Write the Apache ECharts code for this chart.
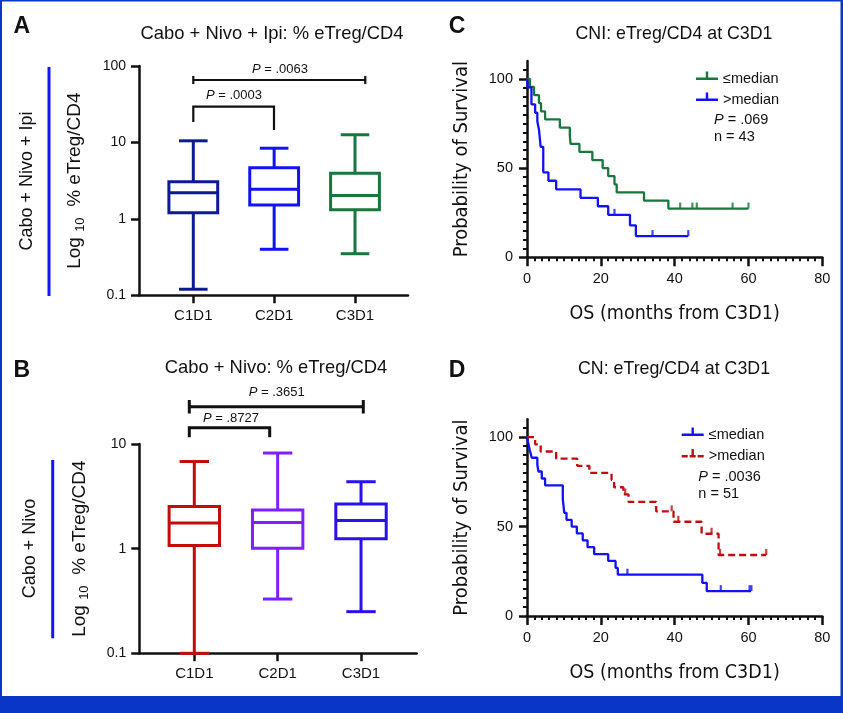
<!DOCTYPE html>
<html><head><meta charset="utf-8">
<script src="https://cdn.jsdelivr.net/npm/echarts@6/dist/echarts.min.js"></script>
<style>html,body{margin:0;padding:0;background:#fff}#c{width:843px;height:713px}</style>
</head><body><div id="c"></div>
<script>
// ---------------- data ----------------
const boxCategories = ['C1D1', 'C2D1', 'C3D1'];
// Panel A: Cabo + Nivo + Ipi, % eTreg/CD4 (min, Q1, median, Q3, max)
const aMin    = [0.12, 0.40, 0.35];
const aQ1     = [1.20, 1.52, 1.32];
const aMedian = [2.19, 2.44, 2.02];
const aQ3     = [3.05, 4.65, 3.95];
const aMax    = [10.5, 8.4, 12.6];
// Panel B: Cabo + Nivo
const bMin    = [0.10, 0.33, 0.25];
const bQ1     = [1.07, 1.01, 1.24];
const bMedian = [1.76, 1.78, 1.86];
const bQ3     = [2.53, 2.34, 2.67];
const bMax    = [6.8, 8.2, 4.36];
const aPValues = ['.0003', '.0063'];   // C1D1 vs C2D1, C1D1 vs C3D1
const bPValues = ['.8727', '.3651'];
// Panel C: CNI, OS by eTreg/CD4 at C3D1
const cLowTime  = [0, 0.8, 1.9, 3.25, 3.8, 4.9, 8.9, 11.6, 11.8, 14.2, 17.7, 20.5, 22.0, 23.7, 24.3, 31.7, 38.3, 60];
const cLowSurv  = [100, 95.5, 90.9, 86.4, 81.8, 77.3, 72.7, 68.2, 63.6, 59.1, 54.5, 50.0, 45.5, 40.9, 36.4, 31.8, 27.3, 27.3];
const cLowCensorTime = [41.5, 44.8, 46.0, 55.7, 60];
const cLowCensorSurv = [27.3, 27.3, 27.3, 27.3, 27.3];
const cHighTime = [0, 0.2, 1.2, 2.2, 2.8, 3.25, 3.7, 4.4, 5.8, 7.9, 14.5, 19.2, 22.0, 27.9, 29.5, 43.7];
const cHighSurv = [100, 95.2, 85.7, 81.0, 76.2, 71.4, 61.9, 47.6, 42.9, 38.1, 33.3, 28.6, 23.8, 17.9, 11.9, 11.9];
const cHighCensorTime = [23.7, 34.0, 43.7];
const cHighCensorSurv = [23.8, 11.9, 11.9];
const cStats = { p: '.069', n: 43 };
// Panel D: CN, OS by eTreg/CD4 at C3D1
const dLowTime  = [0, 0.4, 0.8, 1.3, 2.8, 3.1, 4.0, 4.9, 9.7, 10.1, 10.7, 12.1, 13.5, 15.1, 16.4, 18.2, 22.0, 24.0, 24.6, 47.5, 48.7, 60.7];
const dLowSurv  = [100, 96.2, 92.3, 88.5, 84.6, 80.8, 76.9, 73.1, 65.4, 57.7, 53.8, 50.0, 46.2, 42.3, 38.5, 34.6, 30.8, 26.9, 23.1, 18.5, 13.9, 13.9];
const dLowCensorTime = [27.2, 52.5, 60.3, 60.8];
const dLowCensorSurv = [23.1, 13.9, 13.9, 13.9];
const dHighTime = [0, 2.2, 3.7, 7.9, 13.6, 16.9, 22.9, 23.6, 26.1, 27.5, 35.0, 39.7, 47.3, 51.9, 64.8];
const dHighSurv = [100, 96, 92, 88, 84, 80, 76, 72, 68, 63.8, 58.5, 52.7, 46.0, 34.1, 34.1];
const dHighCensorTime = [26.6, 39.2, 41.0, 50.0, 52.3, 64.8];
const dHighCensorSurv = [68, 58.5, 52.7, 46.0, 34.1, 34.1];
const dStats = { p: '.0036', n: 51 };

// ---------------- styles ----------------
const FONT = "'Liberation Sans', Arial, Helvetica, sans-serif";
const NARROW = "'DejaVu Sans Condensed', 'Liberation Sans Narrow', sans-serif";
const INK = '#111111';
const FRAME = '#0a36c8';
const A_COLORS = ['#0c1a94', '#1212f6', '#17773d'];
const B_COLORS = ['#c40c0c', '#7f1fff', '#2a10f0'];
const GREEN = '#17773d', BLUE = '#1212f6', RED = '#c40c0c';
const TICK_ICON = 'path://M0,7h22v2.5h-22z M9.8,1h2.4v7h-2.4z M0,15h0.01v0.01h-0.01z';
const DASH_ICON = 'path://M0,7h6v2.5h-6z M8,7h6v2.5h-6z M16,7h6v2.5h-6z M9.8,1h2.4v7h-2.4z M0,15h0.01v0.01h-0.01z';

function boxData(mn, q1, md, q3, mx) {
  return boxCategories.map((c, i) => [i + 1, mn[i], q1[i], md[i], q3[i], mx[i]]);
}
function pairs(t, s) { return t.map((v, i) => [v, s[i]]); }

function boxRenderer(colors, halfBox, halfCap) {
  return function (params, api) {
    const x = api.value(0);
    const p = [1, 2, 3, 4, 5].map(d => api.coord([x, api.value(d)]));
    const cx = p[0][0];
    const col = colors[params.dataIndex];
    const st = () => ({ stroke: col, lineWidth: 3, fill: 'none' });
    return { type: 'group', children: [
      { type: 'line', shape: { x1: cx, y1: p[4][1], x2: cx, y2: p[3][1] }, style: st() },
      { type: 'line', shape: { x1: cx - halfCap, y1: p[4][1], x2: cx + halfCap, y2: p[4][1] }, style: st() },
      { type: 'rect', shape: { x: cx - halfBox, y: p[3][1], width: 2 * halfBox, height: p[1][1] - p[3][1] }, style: st() },
      { type: 'line', shape: { x1: cx - halfBox, y1: p[2][1], x2: cx + halfBox, y2: p[2][1] }, style: st() },
      { type: 'line', shape: { x1: cx, y1: p[1][1], x2: cx, y2: p[0][1] }, style: st() },
      { type: 'line', shape: { x1: cx - halfCap, y1: p[0][1], x2: cx + halfCap, y2: p[0][1] }, style: st() }
    ]};
  };
}

const axisLineStyle = { color: INK, width: 2.5 };

function boxXAxis(grid, min, max) {
  return { type: 'value', gridIndex: grid, min, max, splitLine: { show: false },
    axisLine: { show: true, onZero: false, lineStyle: axisLineStyle },
    axisTick: { show: true, customValues: [1, 2, 3], length: 8, lineStyle: axisLineStyle },
    axisLabel: { show: true, customValues: [1, 2, 3], formatter: v => boxCategories[Math.round(v) - 1],
      fontSize: 15, color: INK, margin: 13, fontFamily: FONT } };
}
function boxYAxis(grid, max, gap) {
  return { type: 'log', logBase: 10, gridIndex: grid, min: 0.1, max, splitLine: { show: false },
    axisLine: { show: true, onZero: false, lineStyle: axisLineStyle },
    axisTick: { show: true, length: 8, lineStyle: axisLineStyle },
    axisLabel: { fontSize: 14, color: INK, margin: 13, fontFamily: FONT,
      formatter: v => String(+Number(v).toPrecision(3)) },
    name: '{t|Log }{s|10}{t|  % eTreg/CD4}', nameLocation: 'middle', nameRotate: 90, nameGap: gap,
    nameTextStyle: { rich: {
      t: { fontSize: 19, color: INK, fontFamily: FONT, lineHeight: 24, verticalAlign: 'middle' },
      s: { fontSize: 13, color: INK, fontFamily: FONT, lineHeight: 14, verticalAlign: 'bottom' } } } };
}
function kmXAxis(grid) {
  return { type: 'value', gridIndex: grid, min: 0, max: 80, interval: 20, splitLine: { show: false },
    axisLine: { show: true, onZero: false, lineStyle: axisLineStyle },
    axisTick: { show: true, length: 9, lineStyle: axisLineStyle },
    minorTick: { show: true, splitNumber: 10, length: 4, lineStyle: { color: INK, width: 2 } },
    axisLabel: { fontSize: 14.5, color: INK, margin: 14, fontFamily: FONT },
    name: 'OS (months from C3D1)', nameLocation: 'middle', nameGap: 47,
    nameTextStyle: { fontSize: 19.5, color: INK, fontFamily: NARROW } };
}
function kmYAxis(grid) {
  return { type: 'value', gridIndex: grid, min: 0, max: 110, interval: 50, splitLine: { show: false },
    axisLine: { show: true, onZero: false, lineStyle: axisLineStyle },
    axisTick: { show: true, customValues: [0, 50, 100], length: 8, lineStyle: axisLineStyle },
    minorTick: { show: true, splitNumber: 10, length: 4, lineStyle: { color: INK, width: 2 } },
    axisLabel: { customValues: [0, 50, 100], fontSize: 14.5, color: INK, margin: 14, fontFamily: FONT },
    name: 'Probability of Survival', nameLocation: 'middle', nameRotate: 90, nameGap: 55,
    nameTextStyle: { fontSize: 20, color: INK, fontFamily: NARROW } };
}
function kmLine(name, grid, t, s, color, dashed) {
  return { type: 'line', name, xAxisIndex: grid, yAxisIndex: grid, data: pairs(t, s), step: 'end',
    symbol: 'none', showSymbol: false, z: 3, itemStyle: { color },
    lineStyle: { color, width: 2.3, type: dashed ? [7, 4] : 'solid' } };
}
function kmCensor(name, grid, t, s, color) {
  return { type: 'scatter', name, xAxisIndex: grid, yAxisIndex: grid, data: pairs(t, s),
    symbol: 'rect', symbolSize: [2.2, 6], symbolOffset: [0, -3], z: 4, itemStyle: { color } };
}
function pText(x, y, value, align) {
  return { type: 'text', x, y, style: { text: '{i|P} = ' + value, align: align || 'center', verticalAlign: 'middle',
    fontSize: 13, fill: INK, fontFamily: FONT, rich: { i: { fontStyle: 'italic', fontSize: 13, fontFamily: FONT, fill: INK } } } };
}
function poly(points, w) {
  return { type: 'polyline', shape: { points }, style: { stroke: INK, lineWidth: w, fill: 'none' } };
}
function label(x, y, text, size, weight, rot) {
  return { type: 'text', x, y, rotation: rot || 0, style: { text, align: 'center', verticalAlign: 'middle',
    fontSize: size, fontWeight: weight || 'normal', fill: INK, fontFamily: FONT } };
}
function statText(x, y, s) {
  return [
    { type: 'text', x, y, style: { text: '{i|P} = ' + s.p, align: 'left', verticalAlign: 'middle', fontSize: 14.5,
      fill: INK, fontFamily: FONT, rich: { i: { fontStyle: 'italic', fontSize: 14.5, fontFamily: FONT, fill: INK } } } },
    { type: 'text', x, y: y + 17, style: { text: 'n = ' + s.n, align: 'left', verticalAlign: 'middle', fontSize: 14.5,
      fill: INK, fontFamily: FONT } }
  ];
}

function titleAt(text, left, top, size) {
  return { text, left, top, padding: 0, textAlign: 'center', textVerticalAlign: 'middle',
    textStyle: { fontSize: size, fontWeight: 'normal', color: INK, fontFamily: FONT } };
}

const option = {
  animation: false,
  backgroundColor: '#ffffff',
  title: [
    titleAt('Cabo + Nivo + Ipi: % eTreg/CD4', 272, 34, 18.4),
    titleAt('Cabo + Nivo: % eTreg/CD4', 276, 368, 18.4),
    titleAt('CNI: eTreg/CD4 at C3D1', 674, 34, 17.8),
    titleAt('CN: eTreg/CD4 at C3D1', 674, 369, 17.8)
  ],
  grid: [
    { left: 139, top: 66, width: 269, height: 229.3 },
    { left: 139.3, top: 444, width: 277.4, height: 209.3 },
    { left: 527, top: 61, width: 295.3, height: 196.3 },
    { left: 527, top: 419.3, width: 295.3, height: 196.7 }
  ],
  xAxis: [ boxXAxis(0, 0.3284, 3.6555), boxXAxis(1, 0.34, 3.668), kmXAxis(2), kmXAxis(3) ],
  yAxis: [ boxYAxis(0, 100, 52), boxYAxis(1, 10, 48), kmYAxis(2), kmYAxis(3) ],
  legend: [
    { left: 696, top: 71, orient: 'vertical', itemWidth: 22, itemHeight: 14, itemGap: 6, padding: 0,
      selectedMode: false, textStyle: { fontSize: 14.5, color: INK, fontFamily: FONT },
      data: [ { name: '≤median', icon: TICK_ICON, itemStyle: { color: GREEN } },
              { name: '>median', icon: TICK_ICON, itemStyle: { color: BLUE } } ] },
    { left: 681.7, top: 427, orient: 'vertical', itemWidth: 22, itemHeight: 14, itemGap: 6.5, padding: 0,
      selectedMode: false, textStyle: { fontSize: 14.5, color: INK, fontFamily: FONT },
      data: [ { name: '≤median', icon: TICK_ICON, itemStyle: { color: BLUE } },
              { name: '>median', icon: DASH_ICON, itemStyle: { color: RED } } ] }
  ],
  series: [
    { type: 'custom', name: 'A', xAxisIndex: 0, yAxisIndex: 0, data: boxData(aMin, aQ1, aMedian, aQ3, aMax),
      encode: { x: 0, y: [1, 2, 3, 4, 5] }, renderItem: boxRenderer(A_COLORS, 24.4, 14.3) },
    { type: 'custom', name: 'B', xAxisIndex: 1, yAxisIndex: 1, data: boxData(bMin, bQ1, bMedian, bQ3, bMax),
      encode: { x: 0, y: [1, 2, 3, 4, 5] }, renderItem: boxRenderer(B_COLORS, 25.2, 14.7) },
    kmLine('≤median', 2, cLowTime, cLowSurv, GREEN, false),
    kmLine('>median', 2, cHighTime, cHighSurv, BLUE, false),
    kmCensor('≤median censored C', 2, cLowCensorTime, cLowCensorSurv, GREEN),
    kmCensor('>median censored C', 2, cHighCensorTime, cHighCensorSurv, BLUE),
    kmLine('≤median', 3, dLowTime, dLowSurv, BLUE, false),
    kmLine('>median', 3, dHighTime, dHighSurv, RED, true),
    kmCensor('≤median censored D', 3, dLowCensorTime, dLowCensorSurv, BLUE),
    kmCensor('>median censored D', 3, dHighCensorTime, dHighCensorSurv, RED)
  ],
  graphic: [
    // frame
    { type: 'rect', shape: { x: 0, y: 0, width: 843, height: 1.5 }, style: { fill: FRAME } },
    { type: 'rect', shape: { x: 0, y: 0, width: 2, height: 713 }, style: { fill: FRAME } },
    { type: 'rect', shape: { x: 840.5, y: 0, width: 2.5, height: 713 }, style: { fill: FRAME } },
    { type: 'rect', shape: { x: 0, y: 696, width: 843, height: 17 }, style: { fill: FRAME } },
    // panel letters
    label(21.7, 27, 'A', 23, 'bold'), label(21.7, 370.5, 'B', 23, 'bold'),
    label(457, 27, 'C', 23, 'bold'), label(457, 370.5, 'D', 23, 'bold'),
    // group labels
    label(27, 181, 'Cabo + Nivo + Ipi', 18, 'normal', Math.PI / 2),
    { type: 'line', shape: { x1: 49, y1: 67, x2: 49, y2: 296 }, style: { stroke: '#1414ff', lineWidth: 3 } },
    label(30, 548.5, 'Cabo + Nivo', 18, 'normal', Math.PI / 2),
    { type: 'line', shape: { x1: 52.7, y1: 460, x2: 52.7, y2: 638.3 }, style: { stroke: '#1414ff', lineWidth: 3 } },
    // brackets A
    poly([[193.3, 76], [193.3, 84]], 2.2), poly([[193.3, 80], [365.3, 80]], 2.2), poly([[365.3, 76], [365.3, 84]], 2.2),
    poly([[193.3, 122], [193.3, 106.7], [274, 106.7], [274, 130]], 2.2),
    pText(280, 69, aPValues[1]), pText(234, 95, aPValues[0]),
    // brackets B
    poly([[189.3, 400], [189.3, 413.5]], 3), poly([[189.3, 406.7], [363.3, 406.7]], 3), poly([[363.3, 400], [363.3, 413.5]], 3),
    poly([[189.3, 437.3], [189.3, 427.7], [269.7, 427.7], [269.7, 437.3]], 3),
    pText(276.7, 392.3, bPValues[1]), pText(231, 418.3, bPValues[0])
  ].concat(statText(714, 120, cStats), statText(698.3, 477, dStats))
};

const chart = echarts.init(document.getElementById('c'), null, { renderer: 'canvas' });
chart.setOption(option);
</script></body></html>
